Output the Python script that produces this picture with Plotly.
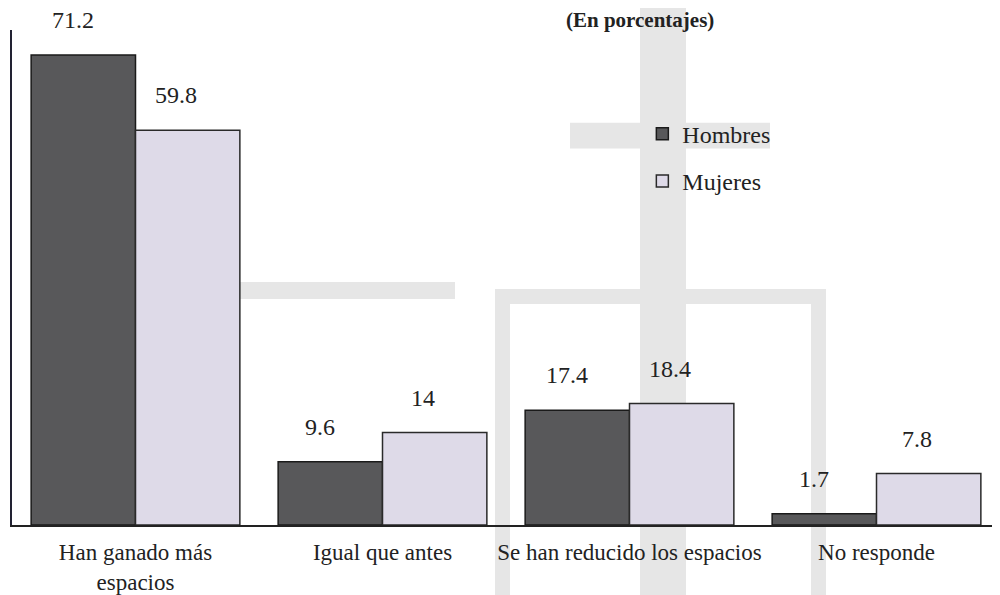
import plotly.graph_objects as go

categories = ["Han ganado más<br>espacios", "Igual que antes", "Se han reducido los espacios", "No responde"]
hombres = [71.2, 9.6, 17.4, 1.7]
mujeres = [59.8, 14, 18.4, 7.8]
series_names = ["Hombres", "Mujeres"]

FONT = "Liberation Serif, Times New Roman, serif"
fig = go.Figure()

# faint watermark-like bands (decorative, paper coordinates)
wm = "#e6e6e6"
def prect(x0, y0, x1, y1):
    # pixel coords -> paper coords (plot area x 12..1000, y 30..527)
    fig.add_shape(type="rect", xref="paper", yref="paper",
                  x0=(x0 - 12) / 988, x1=(x1 - 12) / 988,
                  y0=(527 - y1) / 497, y1=(527 - y0) / 497,
                  fillcolor=wm, line_width=0, layer="below")

prect(640, -40, 686, 620)
prect(570, 123, 770, 149)
prect(495, 290, 826, 305)
prect(495, 290, 510, 620)
prect(811, 290, 826, 620)
prect(155, 283, 455, 300)

fig.add_trace(go.Bar(x=categories, y=hombres, name=series_names[0],
                     marker=dict(color="#58585a", line=dict(color="#1a1a1a", width=1.5)),
                     legendgroup="a"))
fig.add_trace(go.Bar(x=categories, y=mujeres, name=series_names[1],
                     marker=dict(color="#dedae8", line=dict(color="#2a2a2a", width=1.5)),
                     legendgroup="b"))

# value labels above bars
for i, c in enumerate(categories):
    for v, off in ((hombres[i], -0.21), (mujeres[i], 0.21)):
        fig.add_annotation(x=i + off, y=v, xref="x", yref="y", text=str(v),
                           showarrow=False, yanchor="bottom", yshift=20, xshift=-11,
                           font=dict(family=FONT, size=24, color="#222"))

fig.add_annotation(x=(640 - 12) / 988, y=1, xref="paper", yref="paper",
                   text="<b>(En porcentajes)</b>", showarrow=False,
                   yanchor="bottom", yshift=-4,
                   font=dict(family=FONT, size=21, color="#222"))

# page body has a small margin: figure is offset slightly
fig.update_layout(
    width=992, height=587,
    margin=dict(l=4, r=0, t=22, b=64),
    paper_bgcolor="white", plot_bgcolor="rgba(0,0,0,0)",
    barmode="group", bargap=0.155, bargroupgap=0,
    font=dict(family=FONT, size=23, color="#222"),
    showlegend=True,
    legend=dict(x=0.638, y=0.835, xanchor="left", yanchor="top",
                bgcolor="rgba(0,0,0,0)", traceorder="grouped",
                tracegroupgap=13, font=dict(family=FONT, size=24, color="#222")),
)
fig.update_xaxes(showline=True, linecolor="#222", linewidth=1.5, ticks="",
                 showgrid=False, range=[-0.5, 3.5], ticklabelstandoff=6,
                 tickfont=dict(family=FONT, size=23, color="#222"))
fig.update_yaxes(showline=True, linecolor="#223", linewidth=1.5, ticks="",
                 showticklabels=False, showgrid=False, zeroline=False,
                 range=[0, 75])

fig.write_html("out.html")
